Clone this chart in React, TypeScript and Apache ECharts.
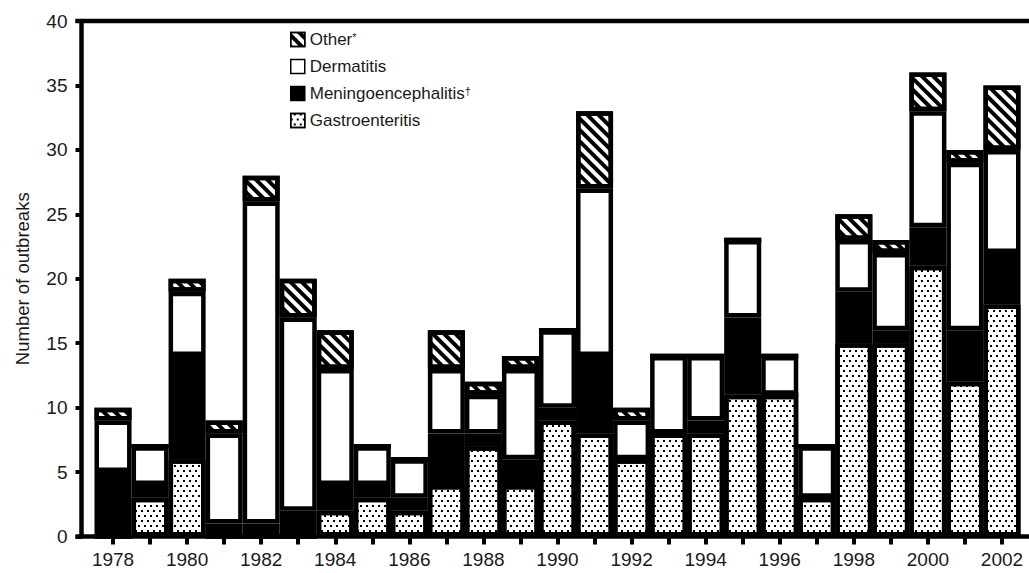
import React, { useEffect, useRef } from 'react';
import * as echarts from 'echarts';

const years = [
  '1978', '1979', '1980', '1981', '1982', '1983', '1984', '1985', '1986', '1987',
  '1988', '1989', '1990', '1991', '1992', '1993', '1994', '1995', '1996', '1997',
  '1998', '1999', '2000', '2001', '2002',
];
const gastroenteritis = [0, 3, 6, 0, 0, 0, 2, 3, 2, 4, 7, 4, 9, 8, 6, 8, 8, 11, 11, 3, 15, 15, 21, 12, 18];
const meningoencephalitis = [5, 1, 8, 1, 1, 2, 2, 1, 1, 4, 1, 2, 1, 6, 0, 0, 1, 6, 0, 0, 4, 1, 3, 4, 4];
const dermatitis = [4, 3, 5, 7, 25, 15, 9, 3, 3, 5, 3, 7, 6, 13, 3, 6, 5, 6, 3, 4, 4, 6, 9, 13, 8];
const other = [1, 0, 1, 1, 2, 3, 3, 0, 0, 3, 1, 1, 0, 6, 1, 0, 0, 0, 0, 0, 2, 1, 3, 1, 5];
const yTicks = [0, 5, 10, 15, 20, 25, 30, 35, 40];

const FONT = '"Liberation Sans", Arial, Helvetica, sans-serif';
const TEXT = '#1a1a1a';

export default function App() {
  const ref = useRef<HTMLDivElement>(null);
  useEffect(() => {
    const chart = echarts.init(ref.current!, null, { renderer: 'svg' });
    const border = { borderColor: '#000', borderWidth: 4.5 };
    const dotDecal = {
      symbol: 'rect',
      symbolSize: 1,
      color: '#000',
      backgroundColor: '#fff',
      dashArrayX: [[2, 4], [0, 3, 2, 1]],
      dashArrayY: [2, 3],
    };
    const hatchDecal = {
      symbol: 'rect',
      symbolSize: 1,
      color: '#000',
      backgroundColor: '#fff',
      dashArrayX: [1, 0],
      dashArrayY: [4, 4],
      rotation: Math.PI / 4,
    };
    const base = {
      type: 'bar',
      stack: 'total',
      barWidth: '100%',
      barCategoryGap: 0,
      emphasis: { disabled: true },
    };
    chart.setOption({
      animation: false,
      textStyle: { fontFamily: FONT },
      grid: { left: 94.5, right: 8.5, top: 21, bottom: 36.5, containLabel: false },
      legend: {
        orient: 'vertical',
        left: 290,
        top: 31,
        padding: 0,
        itemWidth: 14,
        itemHeight: 14,
        itemGap: 10,
        icon: 'rect',
        data: ['Other', 'Dermatitis', 'Meningoencephalitis', 'Gastroenteritis'],
        itemStyle: { borderColor: '#000', borderWidth: 1.5 },
        textStyle: {
          fontFamily: FONT,
          fontSize: 17,
          lineHeight: 17,
          color: TEXT,
          rich: {
            s: { fontSize: 11, lineHeight: 11, verticalAlign: 'top', color: TEXT, fontFamily: FONT },
          },
        },
        formatter: (name: string) =>
          name === 'Other' ? 'Other{s|*}' : name === 'Meningoencephalitis' ? 'Meningoencephalitis{s|†}' : name,
      },
      xAxis: {
        type: 'category',
        data: years,
        axisLine: { show: false },
        axisTick: {
          show: true,
          alignWithLabel: true,
          interval: 0,
          length: 8,
          lineStyle: { color: '#000', width: 4 },
        },
        axisLabel: {
          interval: 1,
          fontSize: 19,
          color: TEXT,
          margin: 13,
          fontFamily: FONT,
        },
      },
      yAxis: {
        type: 'value',
        min: yTicks[0],
        max: yTicks[yTicks.length - 1],
        interval: 5,
        offset: 13,
        name: 'Number of outbreaks',
        nameLocation: 'middle',
        nameGap: 50,
        nameTextStyle: { fontSize: 18.5, color: TEXT, fontFamily: FONT },
        splitLine: { show: false },
        axisLine: { show: true, lineStyle: { color: '#000', width: 4.5 } },
        axisTick: { show: true, length: 6, lineStyle: { color: '#000', width: 4 } },
        axisLabel: { fontSize: 19, color: TEXT, margin: 14, fontFamily: FONT },
      },
      graphic: [
        {
          type: 'line',
          z: 100,
          shape: { x1: 75.5, y1: 21, x2: 1029, y2: 21 },
          style: { stroke: '#000', lineWidth: 4.5 },
        },
        {
          type: 'line',
          z: 100,
          shape: { x1: 75.5, y1: 536.5, x2: 1029, y2: 536.5 },
          style: { stroke: '#000', lineWidth: 4.5 },
        },
      ],
      series: [
        {
          ...base,
          name: 'Gastroenteritis',
          data: gastroenteritis,
          itemStyle: { color: '#fff', ...border, decal: dotDecal },
        },
        {
          ...base,
          name: 'Meningoencephalitis',
          data: meningoencephalitis,
          itemStyle: { color: '#000', ...border },
        },
        {
          ...base,
          name: 'Dermatitis',
          data: dermatitis,
          itemStyle: { color: '#fff', ...border },
        },
        {
          ...base,
          name: 'Other',
          data: other,
          itemStyle: { color: '#fff', ...border, decal: hatchDecal },
        },
      ],
    });
    return () => chart.dispose();
  }, []);
  return (
    <div
      ref={ref}
      style={{ position: 'fixed', left: 0, top: 0, width: 1029, height: 573, background: '#fff' }}
    />
  );
}
